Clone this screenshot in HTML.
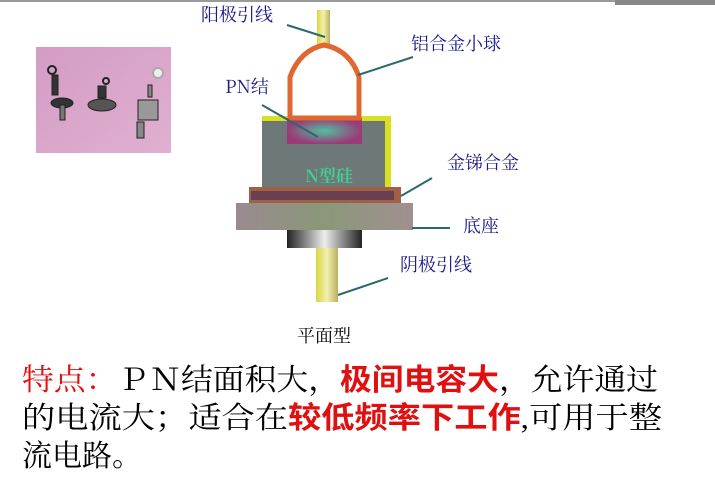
<!DOCTYPE html>
<html><head><meta charset="utf-8"><style>
html,body{margin:0;padding:0;background:#fff;}
svg{display:block;}
</style></head><body>
<svg width="715" height="480" viewBox="0 0 715 480" xmlns="http://www.w3.org/2000/svg">
<defs>
<linearGradient id="lead" x1="0" x2="1"><stop offset="0" stop-color="#d8d840"/><stop offset="0.5" stop-color="#f4f0b0"/><stop offset="1" stop-color="#b8b060"/></linearGradient>
<radialGradient id="pn"><stop offset="0" stop-color="#50c0a0"/><stop offset="1" stop-color="#9a3a78"/></radialGradient>
<linearGradient id="base" x1="0" x2="1"><stop offset="0" stop-color="#9a8a90"/><stop offset="0.5" stop-color="#8a9878"/><stop offset="1" stop-color="#a09090"/></linearGradient>
<linearGradient id="cyl" x1="0" x2="1"><stop offset="0" stop-color="#222"/><stop offset="0.5" stop-color="#eee"/><stop offset="1" stop-color="#222"/></linearGradient>
<linearGradient id="photo" x1="0" y1="0" x2="1" y2="1"><stop offset="0" stop-color="#d49cc4"/><stop offset="1" stop-color="#e0b0d0"/></linearGradient>
</defs>
<rect x="0" y="0" width="715" height="2" fill="#999"/>
<rect x="615" y="0" width="100" height="5" fill="#888"/>
<!-- photo -->
<rect x="36" y="47" width="135" height="106" fill="url(#photo)"/>
<g stroke="#222" fill="#333">
<circle cx="52" cy="70" r="4" fill="none" stroke-width="2"/><rect x="52" y="75" width="6" height="20"/><ellipse cx="62" cy="103" rx="11" ry="5"/><rect x="60" y="105" width="5" height="15" fill="#777"/>
<circle cx="106" cy="81" r="3" fill="none" stroke-width="2"/><rect x="98" y="86" width="8" height="12"/><ellipse cx="102" cy="105" rx="14" ry="6" fill="#555"/>
<circle cx="158" cy="73" r="5" fill="#eee" stroke="#aaa" stroke-width="2"/><rect x="148" y="85" width="4" height="12" fill="#888"/><rect x="138" y="100" width="20" height="20" fill="#999"/><rect x="137" y="122" width="7" height="16" fill="#888"/>
</g>
<!-- device -->
<rect x="317" y="10" width="13" height="36" fill="url(#lead)"/>
<rect x="262" y="116" width="129" height="74" fill="#d8e020"/>
<rect x="262" y="121" width="123" height="69" fill="#6e7878"/>
<rect x="287" y="118" width="75" height="26" fill="url(#pn)"/>
<path d="M290 118 L290 77 Q300 50 324 45 Q350 50 359 77 L359 118 Z" fill="none" stroke="#e06830" stroke-width="5" stroke-linejoin="miter"/>
<text x="329" y="182" font-family="'Noto Serif CJK SC', serif" font-weight="bold" font-size="17" fill="#40d090" text-anchor="middle">N型硅</text>
<rect x="249" y="187" width="152" height="20" fill="#a06048"/>
<rect x="251" y="191" width="143" height="9" fill="#6a4050"/>
<rect x="236" y="203" width="177" height="27" fill="url(#base)"/>
<rect x="287" y="230" width="75" height="18" fill="url(#cyl)"/>
<rect x="316" y="248" width="22" height="54" fill="url(#lead)"/>
<!-- callout lines -->
<g stroke="#2a6a6a" stroke-width="2">
<line x1="287" y1="25" x2="325" y2="37"/>
<line x1="413" y1="57" x2="358" y2="75"/>
<line x1="262" y1="105" x2="318" y2="137"/>
<line x1="432" y1="178" x2="401" y2="196"/>
<line x1="412" y1="228" x2="450" y2="228"/>
<line x1="388" y1="278" x2="338" y2="295"/>
</g>
<g font-family="'Noto Serif CJK SC', serif" font-size="18" fill="#1a1a8a">
<text x="201" y="21">阳极引线</text>
<text x="411" y="50">铝合金小球</text>
<text x="225" y="93">PN结</text>
<text x="447" y="169">金锑合金</text>
<text x="463" y="232">底座</text>
<text x="400" y="271">阴极引线</text>
</g>
<text x="297" y="342" font-family="'Noto Serif CJK SC', serif" font-size="18" fill="#000">平面型</text>
<g font-family="Liberation Serif, 'Noto Serif CJK SC', serif" font-size="30" fill="#000">
<text x="22" y="390" textLength="636" lengthAdjust="spacingAndGlyphs"><tspan fill="#e01010">特点：</tspan>ＰＮ结面积大，<tspan fill="#e01010" font-family="'Noto Sans CJK SC', sans-serif" font-weight="bold">极间电容大</tspan>，允许通过</text>
<text x="22" y="428" textLength="640" lengthAdjust="spacingAndGlyphs">的电流大；适合在<tspan fill="#e01010" font-family="'Noto Sans CJK SC', sans-serif" font-weight="bold">较低频率下工作</tspan>,可用于整</text>
<text x="22" y="466">流电路。</text>
</g>
</svg>
</body></html>
